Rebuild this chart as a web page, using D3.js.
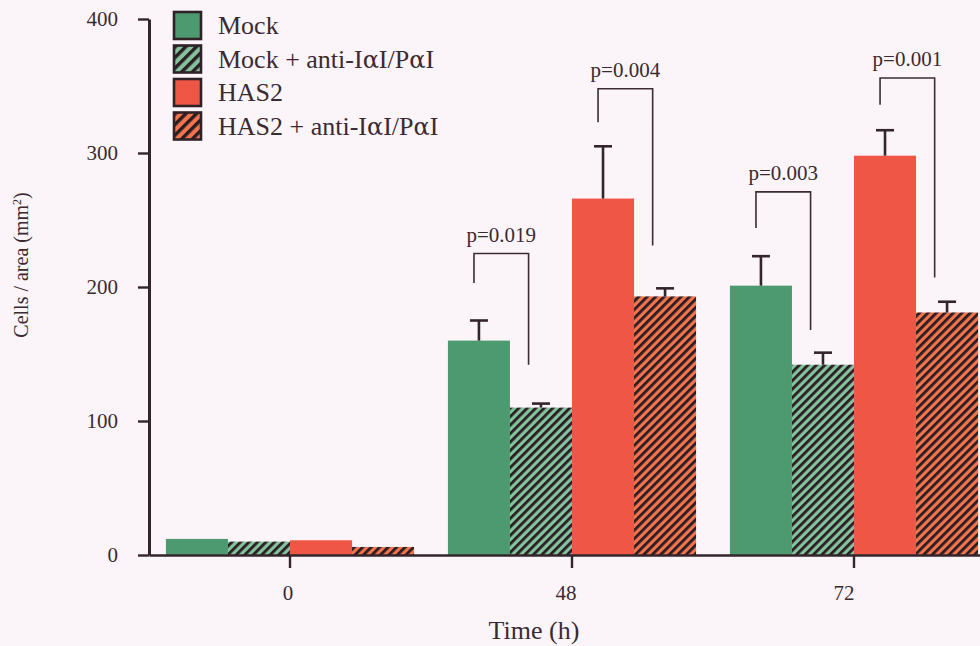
<!DOCTYPE html>
<html>
<head>
<meta charset="utf-8">
<script src="https://cdn.jsdelivr.net/npm/d3@7/dist/d3.min.js"></script>
<style>
  html, body { margin: 0; padding: 0; background: #fbf5fa; }
  svg { display: block; }
  text { font-family: "Liberation Serif", "DejaVu Serif", serif; fill: #3a2a31; }
</style>
</head>
<body>
<svg id="chart" width="980" height="646"></svg>
<script>
// Time points (h)
const categories = ["0", "48", "72"];

// Series names, in drawing order within each time point
const seriesNames = ["Mock", "Mock + anti-I\u03b1I/P\u03b1I", "HAS2", "HAS2 + anti-I\u03b1I/P\u03b1I"];

// Mean cells per area (mm²) for each series at 0, 48 and 72 h
const mockMeans     = [12, 160, 201];
const mockAntiMeans = [10, 110, 142];
const has2Means     = [11, 266, 298];
const has2AntiMeans = [6, 193, 181];

// Upper error (SEM) for each series
const mockErr     = [0, 15, 22];
const mockAntiErr = [0, 3, 9];
const has2Err     = [0, 39, 19];
const has2AntiErr = [0, 6, 8];

// Y axis ticks
const yTicks = [0, 100, 200, 300, 400];

// Significance brackets: label, time point, from-series, to-series, top, left end, right end
const pLabels   = ["p=0.019", "p=0.004", "p=0.003", "p=0.001"];
const pGroups   = ["48", "48", "72", "72"];
const pFrom     = [0, 2, 0, 2];
const pTo       = [1, 3, 1, 3];
const pTop      = [225, 348, 271, 356];
const pLeftEnd  = [203, 323, 244, 336];
const pRightEnd = [142, 231, 168, 207];

const allMeans = [mockMeans, mockAntiMeans, has2Means, has2AntiMeans];
const allErrs  = [mockErr, mockAntiErr, has2Err, has2AntiErr];

const rows = [];
categories.forEach((c, ci) => {
  seriesNames.forEach((s, si) => {
    rows.push({ cat: c, series: si, value: allMeans[si][ci], err: allErrs[si][ci] });
  });
});

const svg = d3.select("#chart");
const W = 980, H = 646;
const ink = "#33252b";

svg.append("rect").attr("width", W).attr("height", H).attr("fill", "#fbf5fa");

// Fills: solid and hatched
const fills = ["#4d9a70", "url(#hatchGreen)", "#ef5646", "url(#hatchRed)"];
const legendFills = ["#4d9a70", "url(#hatchGreenL)", "#ef5646", "url(#hatchRedL)"];

const defs = svg.append("defs");
function hatch(id, bg, size, stroke) {
  const p = defs.append("pattern")
    .attr("id", id)
    .attr("patternUnits", "userSpaceOnUse")
    .attr("width", size).attr("height", size)
    .attr("patternTransform", "rotate(45)");
  p.append("rect").attr("width", size).attr("height", size).attr("fill", bg);
  p.append("rect").attr("x", 0).attr("y", 0).attr("width", stroke).attr("height", size).attr("fill", "#2a1d21");
}
hatch("hatchGreen", "#84c29e", 6, 2.8);
hatch("hatchRed", "#f2744f", 6, 2.8);
hatch("hatchGreenL", "#84c29e", 7.5, 3.4);
hatch("hatchRedL", "#f2744f", 7.5, 3.4);

// Scales
const x0 = d3.scaleBand().domain(categories).range([149, 995]).paddingInner(0.12).paddingOuter(0.06);
const x1 = d3.scaleBand().domain(d3.range(seriesNames.length)).range([0, x0.bandwidth()]).padding(0);
const y = d3.scaleLinear().domain([0, 400]).range([555, 19]);

// Bars
svg.append("g").selectAll("rect.bar")
  .data(rows)
  .join("rect")
  .attr("class", "bar")
  .attr("x", d => x0(d.cat) + x1(d.series))
  .attr("y", d => y(d.value))
  .attr("width", x1.bandwidth())
  .attr("height", d => y(0) - y(d.value))
  .attr("fill", d => fills[d.series]);

// Upper error bars
const eb = svg.append("g").attr("stroke", ink).attr("stroke-width", 2.6).attr("fill", "none");
rows.filter(d => d.err > 0).forEach(d => {
  const cx = x0(d.cat) + x1(d.series) + x1.bandwidth() / 2;
  eb.append("line").attr("x1", cx).attr("x2", cx).attr("y1", y(d.value)).attr("y2", y(d.value + d.err));
  eb.append("line").attr("x1", cx - 9).attr("x2", cx + 9).attr("y1", y(d.value + d.err)).attr("y2", y(d.value + d.err));
});

// Significance brackets
const br = svg.append("g");
pLabels.forEach((lab, i) => {
  const xl = x0(pGroups[i]) + x1(pFrom[i]) + x1.bandwidth() * 0.42;
  const xr = x0(pGroups[i]) + x1(pTo[i]) + x1.bandwidth() * 0.30;
  const path = d3.path();
  path.moveTo(xl, y(pLeftEnd[i]));
  path.lineTo(xl, y(pTop[i]));
  path.lineTo(xr, y(pTop[i]));
  path.lineTo(xr, y(pRightEnd[i]));
  br.append("path").attr("d", path.toString())
    .attr("fill", "none").attr("stroke", "#3a2c32").attr("stroke-width", 1.6);
  br.append("text")
    .attr("x", (xl + xr) / 2)
    .attr("y", y(pTop[i]) - 12)
    .attr("text-anchor", "middle")
    .attr("font-size", 21)
    .text(lab);
});

// Y axis
const yAxis = svg.append("g")
  .attr("transform", "translate(149,0)")
  .call(d3.axisLeft(y).tickValues(yTicks).tickSize(11).tickSizeOuter(0).tickPadding(20));
yAxis.select(".domain").attr("stroke", ink).attr("stroke-width", 3);
yAxis.selectAll(".tick line").attr("stroke", ink).attr("stroke-width", 2.4);
yAxis.selectAll(".tick text").attr("font-size", 21).attr("font-family", "Liberation Serif").attr("fill", "#3a2a31");

// X axis
const xAxis = svg.append("g")
  .attr("transform", "translate(0,555)")
  .call(d3.axisBottom(x0).tickSize(13).tickSizeOuter(0).tickPadding(17));
xAxis.select(".domain").attr("stroke", ink).attr("stroke-width", 2.6);
xAxis.selectAll(".tick line").attr("stroke", ink).attr("stroke-width", 2.4);
xAxis.selectAll(".tick text").attr("font-size", 21).attr("font-family", "Liberation Serif").attr("fill", "#3a2a31")
  .attr("dx", (d, i) => -2 - 4 * i);

// Axis titles
svg.append("text")
  .attr("x", 534).attr("y", 639)
  .attr("text-anchor", "middle")
  .attr("font-size", 26)
  .text("Time (h)");

const yt = svg.append("text")
  .attr("transform", "translate(28,265) rotate(-90)")
  .attr("text-anchor", "middle")
  .attr("font-size", 20);
yt.append("tspan").text("Cells / area (mm");
yt.append("tspan").attr("font-size", 12).attr("dy", -7).text("2");
yt.append("tspan").attr("dy", 7).text(")");

// Legend
const lg = svg.append("g").attr("transform", "translate(174,12)");
seriesNames.forEach((s, i) => {
  const g = lg.append("g").attr("transform", `translate(0,${i * 33.5})`);
  g.append("rect").attr("x", 0).attr("y", 0).attr("width", 27).attr("height", 27)
    .attr("fill", legendFills[i]).attr("stroke", "#2e2227").attr("stroke-width", 2.6);
  const t = g.append("text").attr("x", 44).attr("y", 22).attr("font-size", 26);
  // Greek alpha set in a wider serif face
  s.split("\u03b1").forEach((part, k) => {
    if (k > 0) t.append("tspan").attr("font-family", "DejaVu Serif").attr("font-size", 24).text("\u03b1");
    t.append("tspan").text(part);
  });
});
</script>
</body>
</html>
